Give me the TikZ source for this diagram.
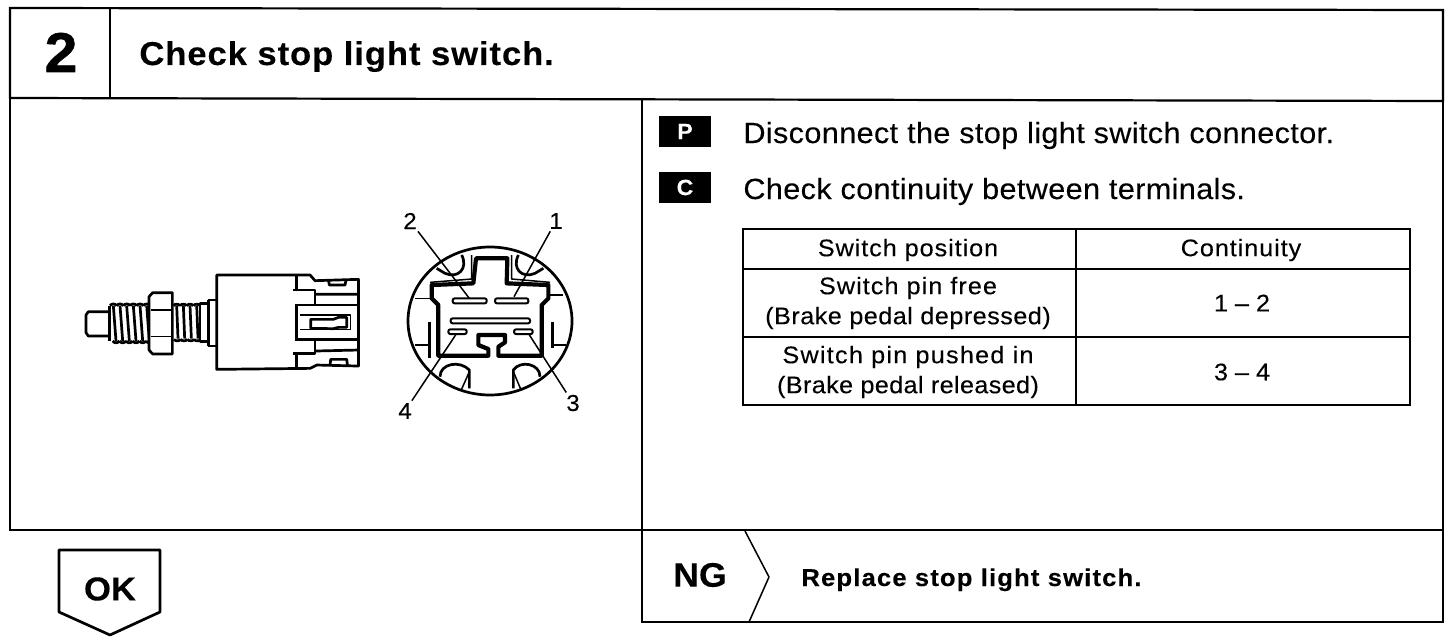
\documentclass[tikz,border=0pt]{standalone}
\usepackage{fontspec}
\setmainfont{Liberation Sans}[FakeStretch=1.05,FakeBold=0.2]
\usetikzlibrary{positioning}
\newcommand{\spaced}[2]{{\addfontfeature{LetterSpace=#1}#2}}
\tikzset{
	frameline/.style={line width=1.1pt},
	figline/.style={line width=1.35pt, line join=round},
	fineline/.style={line width=0.75pt, line join=round},
	tag/.style={fill=black, text=white, font=\fontsize{11}{11}\selectfont\bfseries, minimum width=26pt, minimum height=15.5pt, inner sep=0pt},
	step text/.style={anchor=base west, inner sep=0pt, font=\fontsize{14.6}{14.6}\selectfont\addfontfeature{LetterSpace=1.2}},
	cell/.style={align=center, inner sep=0pt, font=\fontsize{12}{15}\selectfont},
	pinlabel/.style={inner sep=1pt, font=\fontsize{11.5}{11.5}\selectfont},
	slot/.style={line width=1pt, rounded corners=1pt}
}
\begin{document}
\begin{tikzpicture}[x=0.5pt, y=-0.5pt]
	\useasboundingbox (0,0) rectangle (1456,642);
	% marcos
	\draw [frameline] (10,8) -- (1443,10) -- (1443,101) -- (10,98) -- cycle;
	\draw [frameline] (110,8) -- (110,98);
	\draw [frameline] (10,98) -- (10,530) -- (1443,530);
	\draw [frameline] (1443,101) -- (1443,622) -- (642,622) -- (642,100);
	% titulo
	\node [anchor=base, inner sep=0pt, font=\fontsize{28}{28}\selectfont\bfseries\addfontfeature{FakeBold=1}] (num) at (61,72) {2};
	\node [step text, font=\fontsize{16.5}{16.5}\selectfont\bfseries\addfontfeature{LetterSpace=2.7}] (title) at (139,65) {Check stop light switch.};
	% pasos
	\node [tag] (tagp) at (685,131.5) {P};
	\node [tag] (tagc) at (685,187.5) {C};
	\node [step text] (stepp) at (743,143) {Disconnect the stop light switch connector.};
	\node [step text] (stepc) at (743,199) {Check continuity between terminals.};
	% tabla
	\draw [frameline] (743,229) rectangle (1410,405);
	\draw [frameline] (743,269) -- (1410,269);
	\draw [frameline] (743,337) -- (1410,337);
	\draw [frameline] (1076,229) -- (1076,405);
	\node [cell] (headpos) at (908,250) {\spaced{3.9}{Switch position}};
	\node [cell] (headcont) at (1241,250) {\spaced{3.9}{Continuity}};
	\node [cell] (posfree) at (908,303) {\spaced{4.4}{Switch pin free}\\\spaced{2.0}{(Brake pedal depressed)}};
	\node [cell] (contfree) at (1242,303) {1 -- 2};
	\node [cell] (pospush) at (908,372) {\spaced{5.2}{Switch pin pushed in}\\\spaced{1.5}{(Brake pedal released)}};
	\node [cell] (contpush) at (1242,372) {3 -- 4};
	% resultado
	\draw [figline] (59,550) -- (160,550) -- (160,612) -- (110,635) -- (59,612) -- cycle;
	\node [font=\fontsize{16.5}{16.5}\selectfont\bfseries, inner sep=0pt] (ok) at (110,589) {OK};
	\node [font=\fontsize{17}{17}\selectfont\bfseries, inner sep=0pt] (ng) at (700,575) {NG};
	\draw [fineline] (745,531) -- (769,577) -- (749,622);
	\node [step text, font=\fontsize{12.2}{12.2}\selectfont\bfseries\addfontfeature{LetterSpace=4.75}] (replace) at (801,586) {Replace stop light switch.};
	% interruptor, vista lateral
	\begin{scope}[shift={(60,240)}, x=0.1667pt, y=-0.1667pt]
		\draw [figline] (145,215) -- (85,215) -- (78,225) -- (78,278) -- (85,288) -- (145,288);
		\draw [figline] (148,197) -- (148,303) (272,197) -- (272,303);
		\foreach \tx in {160,180,...,260} {
			\draw [figline] (\tx,197) -- (\tx+8,303);
			\draw [figline] (\tx-10,197) .. controls (\tx-6,190) and (\tx+6,190) .. (\tx+10,197);
			\draw [figline] (\tx-2,303) .. controls (\tx+2,310) and (\tx+14,310) .. (\tx+18,303);
		}
		\foreach \tx in {350,370,...,410} {
			\draw [figline] (\tx,197) -- (\tx+4,296);
			\draw [figline] (\tx-10,197) .. controls (\tx-6,191) and (\tx+6,191) .. (\tx+10,197);
			\draw [figline] (\tx-8,298) .. controls (\tx-4,304) and (\tx+8,304) .. (\tx+12,298);
		}
		\draw [figline, fill=white] (267,170) -- (278,158) -- (337,158) -- (337,342) -- (278,342) -- (267,330) -- cycle;
		\draw [fineline] (272,210) -- (337,210) (272,290) -- (337,290);
		\draw [figline] (420,190) -- (445,190) -- (445,305) -- (420,305) -- cycle;
		\draw [figline] (445,180) -- (470,180) (445,318) -- (470,318) (445,180) -- (445,318);
		\draw [figline] (470,105) -- (750,105) -- (765,122) -- (895,118) -- (895,378) -- (770,375) -- (750,385) -- (470,388) -- cycle;
		\draw [figline] (710,105) -- (710,150) (700,150) -- (765,150) -- (765,195);
		\draw [figline] (705,195) -- (895,195) (710,195) -- (710,298) (705,298) -- (895,298);
		\draw [figline] (765,298) -- (765,340) -- (700,340) (710,340) -- (710,385);
		\draw [figline] (765,163) -- (895,163) (765,333) -- (895,330);
		\draw [figline] (805,120) -- (808,135) -- (855,135) -- (858,120);
		\draw [figline] (810,375) -- (812,358) -- (860,358) -- (862,375);
		\draw [fineline] (720,225) -- (872,225) -- (872,268) -- (720,268);
		\draw [figline] (752,238) -- (820,238) -- (835,232) -- (860,232) -- (860,262) -- (835,262) -- (820,266) -- (752,265) -- cycle;
	\end{scope}
	% conector, vista frontal
	\draw [figline] (490,321) ellipse (82 and 74);
	\begin{scope}[shift={(390,205)}, x=0.1667pt, y=-0.1667pt]
		\draw [line width=2.1pt, line join=round] (125,240) -- (250,235) -- (258,160) -- (352,160) -- (350,235) -- (475,240) -- (475,280) -- (455,300) -- (455,452) -- (325,452) -- (325,425) -- (345,412) -- (345,390) -- (265,390) -- (265,420) -- (295,432) -- (295,452) -- (145,452) -- (145,300) -- (125,280) -- cycle;
		\draw [fineline] (245,150) -- (245,222) -- (120,232) (365,150) -- (365,222) -- (480,232);
		% orejas
		\draw [figline] (140,190) -- (165,205) .. controls (205,222) and (235,190) .. (215,150);
		\draw [figline] (460,190) -- (435,205) .. controls (395,222) and (365,190) .. (385,150);
		\draw [figline] (150,515) .. controls (150,475) and (210,465) .. (238,495) -- (238,550);
		\draw [figline] (450,515) .. controls (450,475) and (390,465) .. (370,495) -- (370,550);
		\draw [fineline] (238,500) -- (215,552) (370,500) -- (392,552);
		% laterales
		\draw [figline] (118,350) -- (118,460) (75,420) -- (118,420);
		\draw [figline] (487,350) -- (487,430) (487,420) -- (528,420);
		\draw [fineline] (75,280) -- (125,280) (475,270) -- (520,270);
		% terminales
		\draw [slot] (188,280) rectangle (290,295);
		\draw [slot] (315,280) rectangle (415,295);
		\draw [slot] (182,340) rectangle (420,355);
		\draw [slot] (175,373) rectangle (230,387);
		\draw [slot] (372,373) rectangle (428,387);
		\coordinate (pinb) at (238,280);
		\coordinate (pina) at (372,275);
		\coordinate (pind) at (200,385);
		\coordinate (pinc) at (415,385);
	\end{scope}
	\node [pinlabel] (lblb) at (410,221) {2};
	\node [pinlabel] (lbla) at (556,221) {1};
	\node [pinlabel] (lbld) at (405,411) {4};
	\node [pinlabel] (lblc) at (573,403) {3};
	\draw [fineline] (lblb) -- (pinb);
	\draw [fineline] (lbla) -- (pina);
	\draw [fineline] (lbld) -- (pind);
	\draw [fineline] (lblc) -- (pinc);
\end{tikzpicture}
\end{document}
